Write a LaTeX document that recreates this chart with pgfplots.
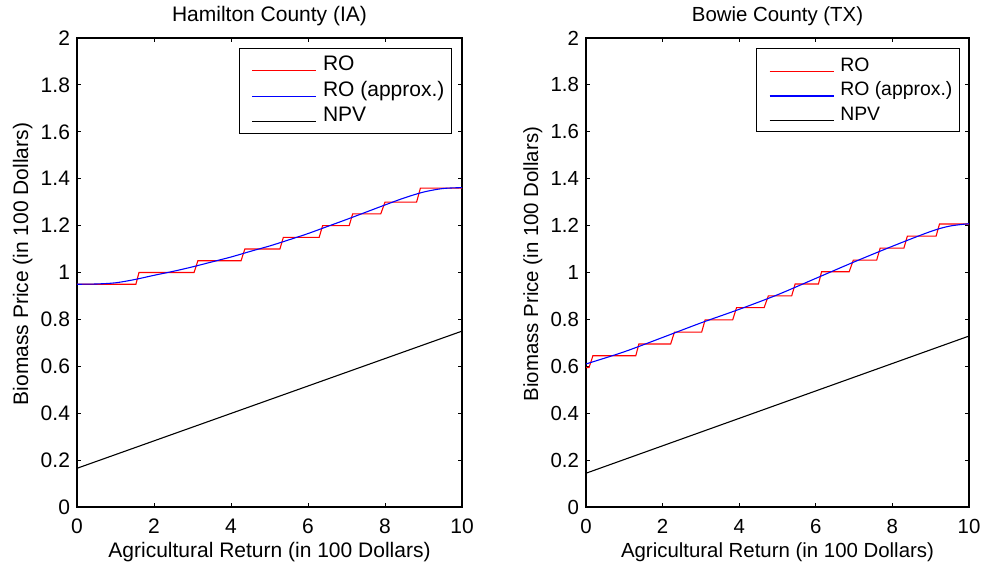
\documentclass[border=0pt]{standalone}
\usepackage{fontspec}
\setmainfont{Liberation Sans}
\usepackage{pgfplots}
\pgfplotsset{compat=1.18}
\pgfplotsset{
  mystyle/.style={
    scale only axis, anchor=south west,
    height=234.5pt,
    xmin=0, xmax=10, ymin=0, ymax=2,
    xtick={0,2,4,6,8,10},
    ytick={0,0.2,0.4,0.6,0.8,1,1.2,1.4,1.6,1.8,2},
    /pgf/number format/assume math mode=true,
    tick align=inside,
    major tick length=2pt,
    axis line style={line width=0.6pt},
    every tick/.style={black, line width=0.5pt},
    xticklabel style={anchor=base, yshift=-13pt},
    xlabel style={at={(axis description cs:0.5,0)}, anchor=base, yshift=-25pt},
    every axis title shift=0pt,
    title style={at={(axis description cs:0.5,1)}, anchor=base, yshift=8pt},
    legend cell align=left,
    legend image code/.code={\path (-2.8pt,0pt); \draw[##1, line width=0.6pt] (0pt,0pt) -- (32pt,0pt);},
    legend style={draw=black, line width=0.6pt, inner xsep=3.5pt, inner ysep=3.3pt,
      at={(axis description cs:1,1)}, anchor=north east,
      row sep=2.25pt, column sep=3pt,
      nodes={inner sep=0pt, text height=8pt, text depth=2.5pt, anchor=base west}},
  }
}
\begin{document}
\begin{tikzpicture}
\useasboundingbox (0,0) rectangle (492pt,283.5pt);
% Left
\begin{axis}[mystyle, at={(38.5pt,30pt)}, width=192.5pt,
  ticklabel style={font=\fontsize{10.5}{12}\selectfont},
  label style={font=\fontsize{10.5}{12}\selectfont},
  title style={font=\fontsize{10.5}{12}\selectfont},
  legend style={font=\fontsize{10.5}{12}\selectfont, xshift=-5pt, yshift=-4.85pt},
  ylabel style={at={(axis description cs:-0.127,0.518)}, anchor=base, rotate=0},
  title={Hamilton County (IA)},
  xlabel={Agricultural Return (in 100 Dollars)},
  ylabel={Biomass Price (in 100 Dollars)}]
\addplot[red, line width=0.55pt] coordinates {
(0,0.95) (1.53,0.95) (1.61,1.0) (3.04,1.0) (3.14,1.05) (4.26,1.05) (4.36,1.10)
(5.27,1.10) (5.36,1.15) (6.29,1.15) (6.38,1.20) (7.07,1.20) (7.16,1.25)
(7.89,1.25) (8.0,1.30) (8.82,1.30) (8.92,1.36) (10,1.36)};
\addlegendentry{RO}
\addplot[blue, line width=0.55pt, smooth] coordinates {
(0,0.95) (0.5,0.951) (1,0.956) (1.5,0.97) (2,0.988) (2.5,1.005) (3,1.024)
(3.5,1.045) (4,1.066) (4.5,1.09) (5,1.113) (5.5,1.139) (6,1.166) (6.5,1.196)
(7,1.226) (7.5,1.257) (8,1.288) (8.5,1.318) (9,1.343) (9.5,1.358) (10,1.362)};
\addlegendentry{RO (approx.)}
\addplot[black, line width=0.55pt] coordinates {(0,0.165) (10,0.75)};
\addlegendentry{NPV}
\end{axis}
% Right
\begin{axis}[mystyle, at={(293pt,30pt)}, width=191.5pt,
  ticklabel style={font=\fontsize{10.2}{12}\selectfont},
  label style={font=\fontsize{10.2}{12}\selectfont},
  title style={font=\fontsize{10.2}{12}\selectfont},
  legend style={font=\fontsize{9.7}{11}\selectfont, xshift=-4.5pt, yshift=-5.15pt,
    row sep=1.7pt},
  ylabel style={at={(axis description cs:-0.125,0.518)}, anchor=base, rotate=0},
  title={Bowie County (TX)},
  xlabel={Agricultural Return (in 100 Dollars)},
  ylabel={Biomass Price (in 100 Dollars)}]
\addplot[red, line width=0.55pt] coordinates {
(0,0.595) (0.08,0.595) (0.18,0.645) (1.30,0.645) (1.38,0.695) (2.21,0.695)
(2.31,0.746) (3.02,0.746) (3.11,0.798) (3.83,0.798) (3.93,0.85) (4.65,0.85)
(4.76,0.90) (5.37,0.90) (5.46,0.951) (6.07,0.951) (6.15,1.003) (6.87,1.003)
(6.98,1.053) (7.59,1.053) (7.68,1.104) (8.30,1.104) (8.39,1.155) (9.14,1.155)
(9.23,1.207) (10,1.207)};
\addlegendentry{RO}
\addplot[blue, line width=0.55pt, smooth] coordinates {
(0,0.61) (1,0.662) (2,0.723) (3,0.785) (4,0.843) (5,0.905) (6,0.975)
(7,1.045) (8,1.112) (9,1.175) (9.5,1.198) (10,1.208)};
\addlegendentry{RO (approx.)}
\addplot[black, line width=0.55pt] coordinates {(0,0.144) (10,0.729)};
\addlegendentry{NPV}
\end{axis}
\end{tikzpicture}
\end{document}
